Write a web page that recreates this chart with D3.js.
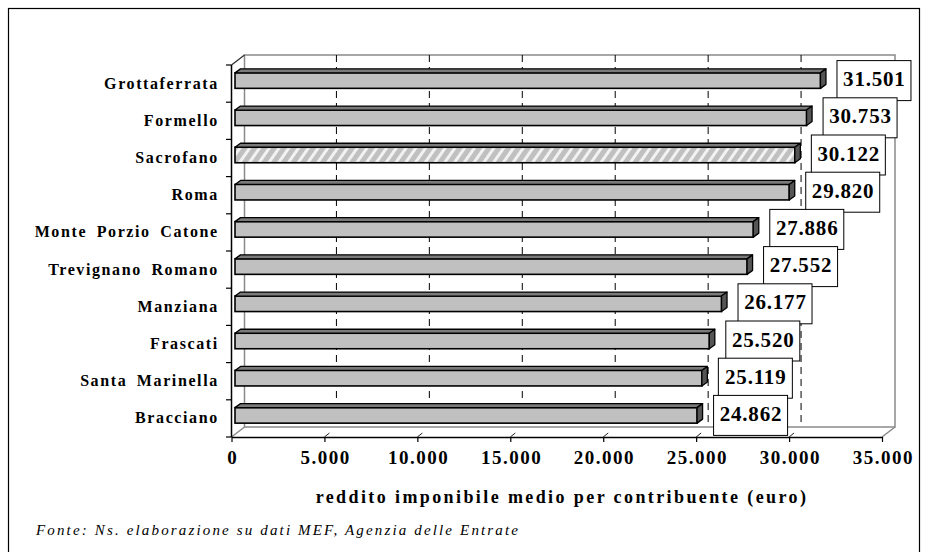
<!DOCTYPE html>
<html><head><meta charset="utf-8">
<script src="https://cdn.jsdelivr.net/npm/d3@7"></script>
<style>body{margin:0;background:#fff} svg{display:block}</style>
</head><body><svg id="c" width="927" height="552"></svg>
<script>
const categories = ["Grottaferrata","Formello","Sacrofano","Roma","Monte Porzio Catone","Trevignano Romano","Manziana","Frascati","Santa Marinella","Bracciano"];
const values = [31501,30753,30122,29820,27886,27552,26177,25520,25119,24862];
const highlighted = ["Sacrofano"];
const xTickValues = [0,5000,10000,15000,20000,25000,30000,35000];
const xTitle = "reddito imponibile medio per contribuente (euro)";
const sourceNote = "Fonte: Ns. elaborazione su dati MEF, Agenzia delle Entrate";

const data = categories.map((c,i)=>({cat:c, val:values[i], hl: highlighted.includes(c)}));
const SERIF = "'Liberation Serif','Times New Roman',Times,serif";
const svg = d3.select("#c");
const itLocale = d3.formatLocale({decimal:",",thousands:".",grouping:[3],currency:["€",""]});
const fmt = itLocale.format(",d");

const x = d3.scaleLinear().domain([0,35000]).range([231.5,882]);
const y = d3.scaleBand().domain(categories).range([65,437]);
const bw = y.bandwidth();
const DX = 13, DY = -10;
const x0 = x(0), x1 = x(35000), yTop = 65, yBot = 437;

// frame
svg.append("rect").attr("x",8.5).attr("y",8.5).attr("width",911).attr("height",570)
  .attr("fill","none").attr("stroke","#000").attr("stroke-width",1.2);

// hatch pattern
const defs = svg.append("defs");
const pat = defs.append("pattern").attr("id","hatch").attr("patternUnits","userSpaceOnUse")
  .attr("width",8).attr("height",8).attr("patternTransform","rotate(35)");
pat.append("rect").attr("width",8).attr("height",8).attr("fill","#c0c0c0");
pat.append("rect").attr("width",3).attr("height",8).attr("fill","#f2f2f2");

// walls
const wallGray = "#8a8a8a";
const walls = svg.append("g").attr("fill","none").attr("stroke",wallGray).attr("stroke-width",1.5);
walls.append("rect").attr("x",x0+DX).attr("y",yTop+DY).attr("width",x1-x0).attr("height",yBot-yTop);
walls.append("line").attr("x1",x0).attr("y1",yBot).attr("x2",x0+DX).attr("y2",yBot+DY);
walls.append("line").attr("x1",x1).attr("y1",yBot).attr("x2",x1+DX).attr("y2",yBot+DY);
svg.append("line").attr("x1",x0).attr("y1",yTop).attr("x2",x0+DX).attr("y2",yTop+DY)
  .attr("stroke","#333").attr("stroke-width",1.3);

// gridlines on back wall
svg.append("g").selectAll("line").data(xTickValues.filter(v=>v>0 && v<35000)).join("line")
  .attr("x1",d=>x(d)+12).attr("x2",d=>x(d)+12).attr("y1",yTop+DY).attr("y2",yBot+DY)
  .attr("stroke","#000").attr("stroke-width",1).attr("stroke-dasharray","7,5");

// floor tick slants
svg.append("g").selectAll("line").data(xTickValues.filter(v=>v>0 && v<35000)).join("line")
  .attr("x1",d=>x(d)).attr("y1",yBot).attr("x2",d=>x(d)+5).attr("y2",yBot-4)
  .attr("stroke","#222").attr("stroke-width",1);

// bars
const OX = 3.5, OY = -3, FH = 15.5, BDX = 5.5, BDY = -4;
const faceC = d => y(d.cat) + bw/2 + OY;
const bars = svg.append("g").selectAll("g").data(data).join("g");
bars.append("rect")
  .attr("x", x(0)+OX).attr("y", d=>faceC(d)-FH/2)
  .attr("width", d=>x(d.val)-x(0)).attr("height", FH)
  .attr("fill", d=>d.hl ? "url(#hatch)" : "#c0c0c0")
  .attr("stroke","#000").attr("stroke-width",1.6);
bars.append("path")
  .attr("d", d=>{
    const l=x(0)+OX, r=x(d.val)+OX, t=faceC(d)-FH/2;
    return `M${l},${t}L${l+BDX},${t+BDY}L${r+BDX},${t+BDY}L${r},${t}Z`;
  })
  .attr("fill","#7a7a7a").attr("stroke","#000").attr("stroke-width",1.3).attr("stroke-linejoin","round");
bars.append("path")
  .attr("d", d=>{
    const r=x(d.val)+OX, t=faceC(d)-FH/2, b=faceC(d)+FH/2;
    return `M${r},${t}L${r+BDX},${t+BDY}L${r+BDX},${b+BDY}L${r},${b}Z`;
  })
  .attr("fill","#555").attr("stroke","#000").attr("stroke-width",1.3).attr("stroke-linejoin","round");

// category axis
svg.append("line").attr("x1",x0).attr("x2",x0).attr("y1",yTop).attr("y2",yBot)
  .attr("stroke","#000").attr("stroke-width",1.5);
svg.append("g").selectAll("line").data(categories.map(c=>y(c)).concat([yBot])).join("line")
  .attr("x1",x0-5.5).attr("x2",x0).attr("y1",d=>d).attr("y2",d=>d)
  .attr("stroke","#000").attr("stroke-width",1.2);
svg.append("g").selectAll("text").data(categories).join("text")
  .attr("x",218.8).attr("y",d=>y(d)+bw/2+5)
  .attr("text-anchor","end")
  .attr("font-family",SERIF).attr("font-weight","bold").attr("font-size",16)
  .attr("letter-spacing",1.6).attr("word-spacing",4)
  .attr("fill","#000").text(d=>d);

// value axis
const xAxis = d3.axisBottom(x).tickValues(xTickValues).tickFormat(fmt).tickSize(5).tickSizeOuter(0);
const ax = svg.append("g").attr("transform",`translate(0,${yBot})`).call(xAxis)
  .attr("font-family",SERIF).attr("font-size",19).attr("font-weight","bold");
ax.select(".domain").attr("stroke","#000").attr("stroke-width",1.5);
ax.selectAll(".tick line").attr("stroke","#000").attr("stroke-width",1.2);
ax.selectAll(".tick text").attr("y",27).attr("dy",null).attr("dx",0.75)
  .attr("letter-spacing",1.5).attr("fill","#000");

// value labels
const BW = 74, BH = 40, LOFF = 57;
const labels = svg.append("g").selectAll("g").data(data).join("g")
  .attr("transform", d=>`translate(${x(d.val)+LOFF},${faceC(d)})`);
labels.append("rect").attr("x",-BW/2).attr("y",-BH/2).attr("width",BW).attr("height",BH)
  .attr("fill","#fff").attr("stroke","#000").attr("stroke-width",1);
labels.append("text").attr("x",0.4).attr("y",5.5).attr("text-anchor","middle")
  .attr("font-family",SERIF).attr("font-weight","bold").attr("font-size",21)
  .attr("letter-spacing",0.8).attr("fill","#000").text(d=>fmt(d.val));

// axis title
svg.append("text").attr("x",562).attr("y",503).attr("text-anchor","middle")
  .attr("font-family",SERIF).attr("font-weight","bold").attr("font-size",18)
  .attr("letter-spacing",2.4).attr("fill","#000").text(xTitle);

// source note
svg.append("text").attr("x",36).attr("y",535)
  .attr("font-family",SERIF).attr("font-style","italic").attr("font-size",15)
  .attr("letter-spacing",2.15).attr("fill","#000").text(sourceNote);
</script></body></html>
